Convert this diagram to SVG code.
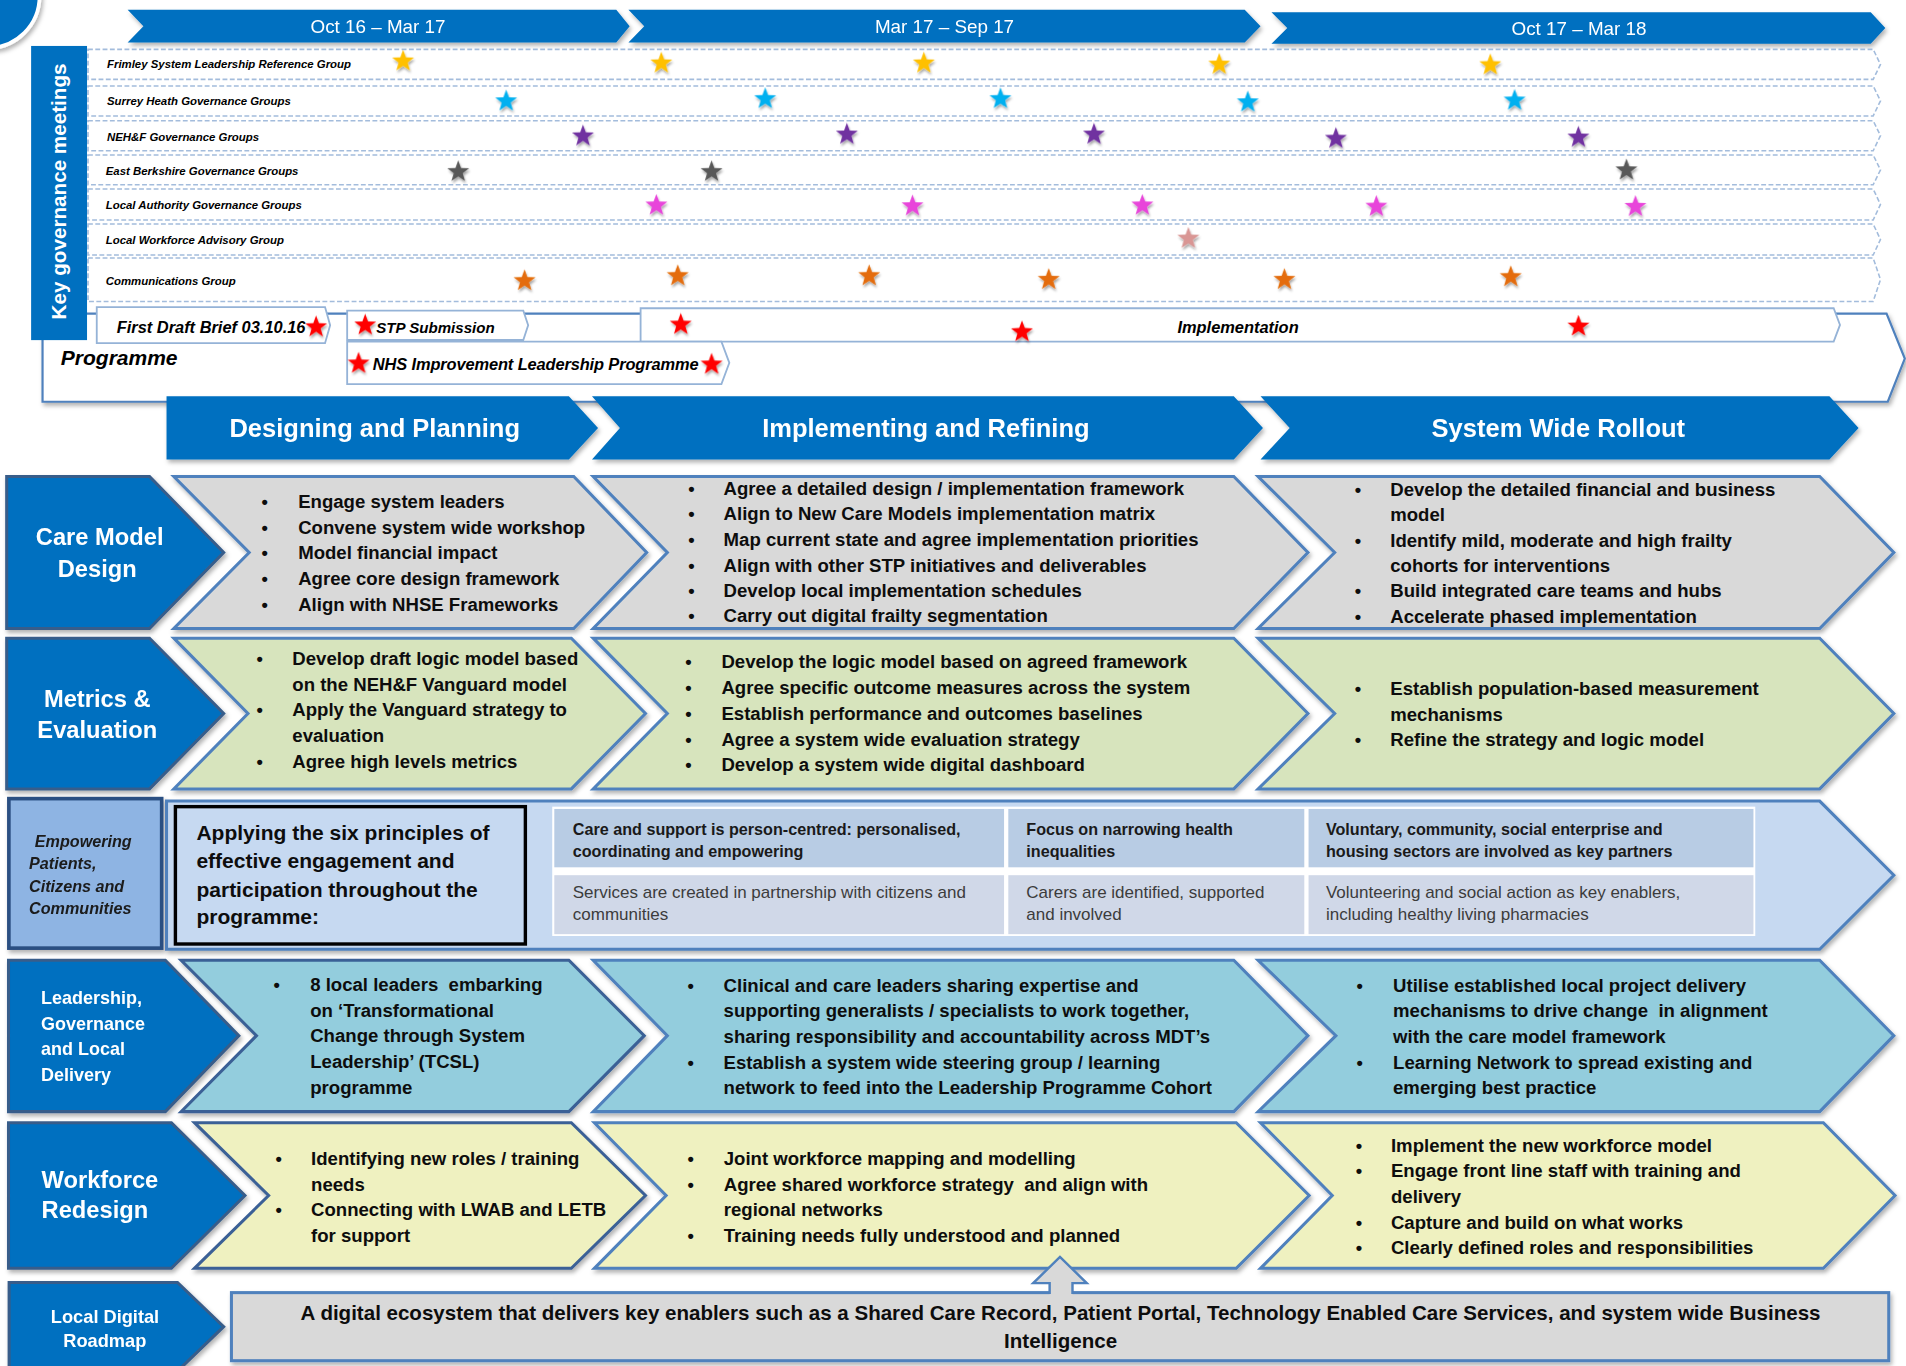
<svg xmlns="http://www.w3.org/2000/svg" width="1906" height="1366" viewBox="0 0 1906 1366">
<defs>
<style>
text { font-family: "Liberation Sans", Arial, sans-serif; }
.per { font-size: 15.5px; fill: #fff; text-anchor: middle; }
.ph { font-size: 21px; font-weight: bold; fill: #fff; text-anchor: middle; }
.gov { font-size: 9.4px; font-weight: bold; font-style: italic; fill: #000; }
.dash { fill: #fff; stroke: #A3BCDC; stroke-width: 1.3; stroke-dasharray: 4 2; }
.pbox { fill: #fff; stroke: #95B3D7; stroke-width: 1.5; }
.pt { font-size: 13.5px; font-weight: bold; font-style: italic; fill: #000; }
.blue { fill: #0070C0; }
.lbl { fill: #0070C0; stroke: #385D8A; stroke-width: 2.5; }
.lab { font-size: 19.5px; font-weight: bold; fill: #fff; }
.labm { font-size: 19.5px; font-weight: bold; fill: #fff; text-anchor: middle; }
.cg { fill: #D9D9D9; stroke: #4F81BD; stroke-width: 2.5; }
.cgr { fill: #D7E4BD; stroke: #4F81BD; stroke-width: 2.5; }
.ct { fill: #93CDDD; stroke: #4F81BD; stroke-width: 2.5; }
.cy { fill: #EFF1C0; stroke: #4F81BD; stroke-width: 2.5; }
.dk { stroke: #3B6196; }
.body { font-size: 15.3px; font-weight: bold; fill: #0d0d0d; }
.bul { font-size: 15px; font-weight: bold; fill: #0d0d0d; text-anchor: middle; }
.tb { font-size: 13.3px; font-weight: bold; fill: #1a1a1a; }
.tr { font-size: 14px; fill: #3c3c3c; }
</style>
<path id="star" d="M0,-9.5 L2.292,-3.155 L9.035,-2.936 L3.709,1.205 L5.584,7.686 L0,3.9 L-5.584,7.686 L-3.709,1.205 L-9.035,-2.936 L-2.292,-3.155 Z"/>
<filter id="sh" x="-5%" y="-20%" width="115%" height="160%">
<feDropShadow dx="1.5" dy="2.5" stdDeviation="1.6" flood-color="#000" flood-opacity="0.3"/>
</filter>
<filter id="ssh" x="-50%" y="-50%" width="200%" height="220%">
<feDropShadow dx="0.8" dy="2" stdDeviation="1" flood-color="#000" flood-opacity="0.35"/>
</filter>
</defs>
<rect x="0" y="0" width="1906" height="1366" fill="#fff"/>
<g transform="scale(1.215561)">

<!-- corner circle -->
<g id="corner-badge" filter="url(#sh)">
<circle cx="-10" cy="-3" r="42.5" fill="#0070C0" stroke="#fff" stroke-width="3"/>
</g>

<!-- period headers -->
<g id="period-1" filter="url(#sh)">
<polygon class="blue" points="105,8 507,8 518,21.5 507,35 105,35 118,21.5"/>
<text class="per" x="311" y="27.4">Oct 16 – Mar 17</text>
</g>
<g id="period-2" filter="url(#sh)">
<polygon class="blue" points="517,8 1024,8 1037,21.5 1024,35 517,35 530,21.5"/>
<text class="per" x="777" y="27.4">Mar 17 – Sep 17</text>
</g>
<g id="period-3" filter="url(#sh)">
<polygon class="blue" points="1046,10 1539,10 1551,23 1539,36 1046,36 1059,23"/>
<text class="per" x="1299" y="28.6">Oct 17 – Mar 18</text>
</g>

<!-- programme outer box -->
<g id="programme" filter="url(#sh)">
<path d="M35,258 L1552,258 L1567,295 L1553,330.5 L35,330.5 Z" fill="#fff" stroke="#4F81BD" stroke-width="1.8"/>
</g>
<text class="pt" x="50" y="300" style="font-size:17.3px">Programme</text>

<!-- governance rows -->
<g id="gov-rows">
<g id="gov-frimley">
<path class="dash" d="M72.4,40.6 L1541,40.6 L1547,53 L1541,65.3 L72.4,65.3 Z"/>
<text class="gov" x="88" y="55.7">Frimley System Leadership Reference Group</text>
</g>
<g id="gov-surrey">
<path class="dash" d="M72.4,70.7 L1541,70.7 L1547,83 L1541,95.4 L72.4,95.4 Z"/>
<text class="gov" x="88" y="86.4">Surrey Heath Governance Groups</text>
</g>
<g id="gov-nehf">
<path class="dash" d="M72.4,99.3 L1541,99.3 L1547,111.6 L1541,124 L72.4,124 Z"/>
<text class="gov" x="88" y="115.7">NEH&amp;F Governance Groups</text>
</g>
<g id="gov-eastberks">
<path class="dash" d="M72.4,127.5 L1541,127.5 L1547,139.8 L1541,152 L72.4,152 Z"/>
<text class="gov" x="87" y="144">East Berkshire Governance Groups</text>
</g>
<g id="gov-localauth">
<path class="dash" d="M72.4,155.5 L1541,155.5 L1547,168.2 L1541,181 L72.4,181 Z"/>
<text class="gov" x="87" y="172">Local Authority Governance Groups</text>
</g>
<g id="gov-workforce">
<path class="dash" d="M72.4,184.3 L1541,184.3 L1547,197 L1541,209.8 L72.4,209.8 Z"/>
<text class="gov" x="87" y="201">Local Workforce Advisory Group</text>
</g>
<g id="gov-comms">
<path class="dash" d="M72.4,212.3 L1541,212.3 L1547,230 L1541,248 L72.4,248 Z"/>
<text class="gov" x="87" y="234.7">Communications Group</text>
</g>
</g>

<!-- key governance meetings bar -->
<g id="key-governance">
<rect class="blue" x="25.6" y="37.8" width="46" height="242"/>
<text x="0" y="0" transform="translate(54,157.5) rotate(-90)" style="font-size:17px;font-weight:bold;fill:#fff;text-anchor:middle">Key governance meetings</text>
</g>

<!-- programme milestones -->
<g id="first-draft">
<polygon class="pbox" points="79.6,252.6 267.4,252.6 271.6,267.5 267.4,282.3 79.6,282.3"/>
<text class="pt" x="96" y="274">First Draft Brief 03.10.16</text>
</g>
<g id="stp-submission">
<polygon class="pbox" points="285.6,255.6 430.5,255.6 434.5,267.6 430.5,279.7 285.6,279.7"/>
<text class="pt" x="309.5" y="274" textLength="97.5" lengthAdjust="spacingAndGlyphs" style="font-size:12.5px">STP Submission</text>
</g>
<g id="implementation">
<polygon class="pbox" points="527,253.6 1508.5,253.6 1513.7,267.3 1508.5,281 527,281"/>
<text class="pt" x="1018.5" y="273.7" style="text-anchor:middle">Implementation</text>
</g>
<g id="nhs-leadership">
<polygon class="pbox" points="285.6,281 593.5,281 600,298.5 593.5,316 285.6,316"/>
<text class="pt" x="306.7" y="304" textLength="268" lengthAdjust="spacing">NHS Improvement Leadership Programme</text>
</g>

<!-- stars -->
<g id="stars" filter="url(#ssh)">
<g fill="#FFC000">
<use href="#star" x="331.6" y="50.3"/><use href="#star" x="544" y="52"/><use href="#star" x="760" y="52"/><use href="#star" x="1003" y="53"/><use href="#star" x="1226" y="53.5"/>
</g>
<g fill="#00B0F0">
<use href="#star" x="416.4" y="83.2"/><use href="#star" x="629.5" y="81.3"/><use href="#star" x="823" y="81.3"/><use href="#star" x="1026.5" y="84"/><use href="#star" x="1246" y="82.6"/>
</g>
<g fill="#7030A0">
<use href="#star" x="479.6" y="112"/><use href="#star" x="696.7" y="110.6"/><use href="#star" x="900" y="110.6"/><use href="#star" x="1099" y="114"/><use href="#star" x="1298.5" y="113"/>
</g>
<g fill="#595959">
<use href="#star" x="377" y="141.3"/><use href="#star" x="585.4" y="141.3"/><use href="#star" x="1338" y="140"/>
</g>
<g fill="#E844DA">
<use href="#star" x="540" y="169"/><use href="#star" x="750.7" y="169.5"/><use href="#star" x="939.8" y="169"/><use href="#star" x="1132.3" y="170"/><use href="#star" x="1345.4" y="170"/>
</g>
<g fill="#D99694">
<use href="#star" x="977.6" y="196.2"/>
</g>
<g fill="#E46C0A">
<use href="#star" x="431.5" y="231"/><use href="#star" x="557.5" y="227"/><use href="#star" x="715" y="227"/><use href="#star" x="862.7" y="230"/><use href="#star" x="1056.6" y="230"/><use href="#star" x="1242.8" y="227.8"/>
</g>
<g fill="#FF0000">
<use href="#star" x="260" y="269"/><use href="#star" x="300.4" y="267.5"/><use href="#star" x="560" y="267"/><use href="#star" x="840.7" y="273"/><use href="#star" x="1298.5" y="268.4"/><use href="#star" x="295" y="299"/><use href="#star" x="585.4" y="299.8"/>
</g>
</g>

<!-- phase headers -->
<g id="phase-design" filter="url(#sh)">
<polygon class="blue" points="137,326 468,326 492,352 468,378 137,378"/>
<text class="ph" x="308.3" y="359.8">Designing and Planning</text>
</g>
<g id="phase-implement" filter="url(#sh)">
<polygon class="blue" points="487,326 1015,326 1039,352 1015,378 487,378 510,352"/>
<text class="ph" x="761.7" y="359.8">Implementing and Refining</text>
</g>
<g id="phase-rollout" filter="url(#sh)">
<polygon class="blue" points="1037,326 1505,326 1529,352 1505,378 1037,378 1061,352"/>
<text class="ph" x="1282" y="359.8">System Wide Rollout</text>
</g>

<!-- Row 1: Care Model Design -->
<g id="label-care-model" filter="url(#sh)">
<polygon class="lbl" points="5.5,392 123,392 184,454.5 123,517 5.5,517"/>
<text class="labm" x="82" y="448.4">Care Model</text>
<text class="labm" x="80" y="474.4">Design</text>
</g>
<g id="care-c1">
<polygon class="cg" filter="url(#sh)" points="143,392 472,392 532,454.5 472,517 143,517 205,454.5"/>
<text class="bul" x="217.8" y="418.2">•</text><text class="bul" x="217.8" y="439.3">•</text><text class="bul" x="217.8" y="460.1">•</text><text class="bul" x="217.8" y="481.2">•</text><text class="bul" x="217.8" y="502.4">•</text>
<text class="body" x="245.3" y="418.2">Engage system leaders</text>
<text class="body" x="245.3" y="439.3">Convene system wide workshop</text>
<text class="body" x="245.3" y="460.1">Model financial impact</text>
<text class="body" x="245.3" y="481.2">Agree core design framework</text>
<text class="body" x="245.3" y="502.4">Align with NHSE Frameworks</text>
</g>
<g id="care-c2">
<polygon class="cg" filter="url(#sh)" points="488,392 1015,392 1076,454.5 1015,517 488,517 549,454.5"/>
<text class="bul" x="568.9" y="407.2">•</text><text class="bul" x="568.9" y="427.8">•</text><text class="bul" x="568.9" y="448.9">•</text><text class="bul" x="568.9" y="470.3">•</text><text class="bul" x="568.9" y="490.9">•</text><text class="bul" x="568.9" y="512">•</text>
<text class="body" x="595.3" y="407.2">Agree a detailed design / implementation framework</text>
<text class="body" x="595.3" y="427.8">Align to New Care Models implementation matrix</text>
<text class="body" x="595.3" y="448.9">Map current state and agree implementation priorities</text>
<text class="body" x="595.3" y="470.3">Align with other STP initiatives and deliverables</text>
<text class="body" x="595.3" y="490.9">Develop local implementation schedules</text>
<text class="body" x="595.3" y="512">Carry out digital frailty segmentation</text>
</g>
<g id="care-c3">
<polygon class="cg" filter="url(#sh)" points="1035,392 1497,392 1558,454.5 1497,517 1035,517 1098,454.5"/>
<text class="bul" x="1117.2" y="407.8">•</text><text class="bul" x="1117.2" y="449.7">•</text><text class="bul" x="1117.2" y="491.4">•</text><text class="bul" x="1117.2" y="512.2">•</text>
<text class="body" x="1143.7" y="407.8">Develop the detailed financial and business</text>
<text class="body" x="1143.7" y="428.3">model</text>
<text class="body" x="1143.7" y="449.7">Identify mild, moderate and high frailty</text>
<text class="body" x="1143.7" y="470.8">cohorts for interventions</text>
<text class="body" x="1143.7" y="491.4">Build integrated care teams and hubs</text>
<text class="body" x="1143.7" y="512.2">Accelerate phased implementation</text>
</g>

<!-- Row 2: Metrics & Evaluation -->
<g id="label-metrics" filter="url(#sh)">
<polygon class="lbl" points="5.5,525 123,525 184,587 123,649 5.5,649"/>
<text class="labm" x="80" y="581.4">Metrics &amp;</text>
<text class="labm" x="80" y="607.4">Evaluation</text>
</g>
<g id="metrics-c1">
<polygon class="cgr" filter="url(#sh)" points="143,525 470,525 531,587 470,649 143,649 204,587"/>
<text class="bul" x="213.7" y="547">•</text><text class="bul" x="213.7" y="589">•</text><text class="bul" x="213.7" y="631.5">•</text>
<text class="body" x="240.5" y="547">Develop draft logic model based</text>
<text class="body" x="240.5" y="568.2">on the NEH&amp;F Vanguard model</text>
<text class="body" x="240.5" y="589">Apply the Vanguard strategy to</text>
<text class="body" x="240.5" y="610.1">evaluation</text>
<text class="body" x="240.5" y="631.5">Agree high levels metrics</text>
</g>
<g id="metrics-c2">
<polygon class="cgr" filter="url(#sh)" points="488,525 1015,525 1076,587 1015,649 488,649 549,587"/>
<text class="bul" x="566.3" y="549.8">•</text><text class="bul" x="566.3" y="571.2">•</text><text class="bul" x="566.3" y="592.3">•</text><text class="bul" x="566.3" y="613.4">•</text><text class="bul" x="566.3" y="634.3">•</text>
<text class="body" x="593.5" y="549.8">Develop the logic model based on agreed framework</text>
<text class="body" x="593.5" y="571.2">Agree specific outcome measures across the system</text>
<text class="body" x="593.5" y="592.3">Establish performance and outcomes baselines</text>
<text class="body" x="593.5" y="613.4">Agree a system wide evaluation strategy</text>
<text class="body" x="593.5" y="634.3">Develop a system wide digital dashboard</text>
</g>
<g id="metrics-c3">
<polygon class="cgr" filter="url(#sh)" points="1035,525 1497,525 1558,587 1497,649 1035,649 1098,587"/>
<text class="bul" x="1117.2" y="571.7">•</text><text class="bul" x="1117.2" y="613.7">•</text>
<text class="body" x="1143.7" y="571.7">Establish population-based measurement</text>
<text class="body" x="1143.7" y="592.9">mechanisms</text>
<text class="body" x="1143.7" y="613.7">Refine the strategy and logic model</text>
</g>

<!-- Row 3: Empowering -->
<g id="label-empowering" filter="url(#sh)">
<rect x="7.3" y="657" width="125.7" height="123" fill="#8EB4E3" stroke="#2B4F82" stroke-width="3"/>
<text x="28.6" y="696.5" style="font-size:13.3px;font-weight:bold;font-style:italic;fill:#1a1a1a">Empowering</text>
<text x="23.9" y="715" style="font-size:13.3px;font-weight:bold;font-style:italic;fill:#1a1a1a">Patients,</text>
<text x="23.9" y="733.5" style="font-size:13.3px;font-weight:bold;font-style:italic;fill:#1a1a1a">Citizens and</text>
<text x="23.9" y="751.9" style="font-size:13.3px;font-weight:bold;font-style:italic;fill:#1a1a1a">Communities</text>
</g>
<g id="empowering-band">
<polygon filter="url(#sh)" points="137,659 1497,659 1558,720 1497,781 137,781" fill="#C6D9F1" stroke="#4F81BD" stroke-width="2.5"/>
<rect x="144.3" y="663.6" width="287.9" height="113" fill="#C6D9F1" stroke="#000" stroke-width="2.8"/>
<text x="161.6" y="691" style="font-size:17.3px;font-weight:bold;fill:#0d0d0d">Applying the six principles of</text>
<text x="161.6" y="713.8" style="font-size:17.3px;font-weight:bold;fill:#0d0d0d">effective engagement and</text>
<text x="161.6" y="737.7" style="font-size:17.3px;font-weight:bold;fill:#0d0d0d">participation throughout the</text>
<text x="161.6" y="760" style="font-size:17.3px;font-weight:bold;fill:#0d0d0d">programme:</text>
</g>
<g id="principles-table">
<rect x="454.3" y="663.6" width="989.7" height="106.4" fill="#fff"/>
<rect x="456" y="665.5" width="370" height="48" fill="#B8CCE4"/>
<rect x="829.5" y="665.5" width="243.5" height="48" fill="#B8CCE4"/>
<rect x="1076.5" y="665.5" width="366" height="48" fill="#B8CCE4"/>
<rect x="456" y="720" width="370" height="48.5" fill="#D0D8E8"/>
<rect x="829.5" y="720" width="243.5" height="48.5" fill="#D0D8E8"/>
<rect x="1076.5" y="720" width="366" height="48.5" fill="#D0D8E8"/>
<text class="tb" x="471.2" y="687">Care and support is person-centred: personalised,</text>
<text class="tb" x="471.2" y="705.3">coordinating and empowering</text>
<text class="tb" x="844.3" y="687">Focus on narrowing health</text>
<text class="tb" x="844.3" y="705.3">inequalities</text>
<text class="tb" x="1090.8" y="687">Voluntary, community, social enterprise and</text>
<text class="tb" x="1090.8" y="705.3">housing sectors are involved as key partners</text>
<text class="tr" x="471.2" y="739">Services are created in partnership with citizens and</text>
<text class="tr" x="471.2" y="756.9">communities</text>
<text class="tr" x="844.3" y="739">Carers are identified, supported</text>
<text class="tr" x="844.3" y="756.9">and involved</text>
<text class="tr" x="1090.8" y="739">Volunteering and social action as key enablers,</text>
<text class="tr" x="1090.8" y="756.9">including healthy living pharmacies</text>
</g>

<!-- Row 4: Leadership -->
<g id="label-leadership" filter="url(#sh)">
<polygon class="lbl" points="7,790 136,790 196.5,852 136,914.5 7,914.5"/>
<text x="33.8" y="826" style="font-size:14.8px;font-weight:bold;fill:#fff">Leadership,</text>
<text x="33.8" y="847.3" style="font-size:14.8px;font-weight:bold;fill:#fff">Governance</text>
<text x="33.8" y="867.9" style="font-size:14.8px;font-weight:bold;fill:#fff">and Local</text>
<text x="33.8" y="889" style="font-size:14.8px;font-weight:bold;fill:#fff">Delivery</text>
</g>
<g id="leadership-c1">
<polygon class="ct dk" filter="url(#sh)" points="149,790 468,790 530,852 468,914.5 149,914.5 211,852"/>
<text class="bul" x="227.7" y="815.3">•</text>
<text class="body" x="255.2" y="815.3" xml:space="preserve">8 local leaders  embarking</text>
<text class="body" x="255.2" y="836.4">on ‘Transformational</text>
<text class="body" x="255.2" y="857.5">Change through System</text>
<text class="body" x="255.2" y="878.6">Leadership’ (TCSL)</text>
<text class="body" x="255.2" y="899.7">programme</text>
</g>
<g id="leadership-c2">
<polygon class="ct" filter="url(#sh)" points="488,790 1015,790 1076,852 1015,914.5 488,914.5 549,852"/>
<text class="bul" x="568.2" y="815.8">•</text><text class="bul" x="568.2" y="879.2">•</text>
<text class="body" x="595.3" y="815.8">Clinical and care leaders sharing expertise and</text>
<text class="body" x="595.3" y="836.9">supporting generalists / specialists to work together,</text>
<text class="body" x="595.3" y="858">sharing responsibility and accountability across MDT’s</text>
<text class="body" x="595.3" y="879.2">Establish a system wide steering group / learning</text>
<text class="body" x="595.3" y="900.3">network to feed into the Leadership Programme Cohort</text>
</g>
<g id="leadership-c3">
<polygon class="ct" filter="url(#sh)" points="1035,790 1497,790 1558,852 1497,914.5 1035,914.5 1099,852"/>
<text class="bul" x="1118.5" y="815.8">•</text><text class="bul" x="1118.5" y="879.2">•</text>
<text class="body" x="1146" y="815.8">Utilise established local project delivery</text>
<text class="body" x="1146" y="836.9" xml:space="preserve">mechanisms to drive change  in alignment</text>
<text class="body" x="1146" y="858">with the care model framework</text>
<text class="body" x="1146" y="879.2">Learning Network to spread existing and</text>
<text class="body" x="1146" y="900.3">emerging best practice</text>
</g>

<!-- Row 5: Workforce -->
<g id="label-workforce" filter="url(#sh)">
<polygon class="lbl" points="7,923.6 141,923.6 201.5,983.5 141,1043.4 7,1043.4"/>
<text class="lab" x="34.2" y="977.6" style="font-size:19.5px">Workforce</text>
<text class="lab" x="34.2" y="1002.3" style="font-size:19.5px">Redesign</text>
</g>
<g id="workforce-c1">
<polygon class="cy dk" filter="url(#sh)" points="160,923.6 470,923.6 531,983.5 470,1043.4 160,1043.4 221,983.5"/>
<text class="bul" x="229.2" y="958.4">•</text><text class="bul" x="229.2" y="1000.6">•</text>
<text class="body" x="255.9" y="958.4">Identifying new roles / training</text>
<text class="body" x="255.9" y="979.5">needs</text>
<text class="body" x="255.9" y="1000.6">Connecting with LWAB and LETB</text>
<text class="body" x="255.9" y="1021.7">for support</text>
</g>
<g id="workforce-c2">
<polygon class="cy" filter="url(#sh)" points="489,923.6 1017,923.6 1077,983.5 1017,1043.4 489,1043.4 548,983.5"/>
<text class="bul" x="568.3" y="958.4">•</text><text class="bul" x="568.3" y="979.5">•</text><text class="bul" x="568.3" y="1021.7">•</text>
<text class="body" x="595.4" y="958.4">Joint workforce mapping and modelling</text>
<text class="body" x="595.4" y="979.5" xml:space="preserve">Agree shared workforce strategy  and align with</text>
<text class="body" x="595.4" y="1000.6">regional networks</text>
<text class="body" x="595.4" y="1021.7">Training needs fully understood and planned</text>
</g>
<g id="workforce-c3">
<polygon class="cy" filter="url(#sh)" points="1037,923.6 1500,923.6 1559,983.5 1500,1043.4 1037,1043.4 1096,983.5"/>
<text class="bul" x="1118" y="947.4">•</text><text class="bul" x="1118" y="968.5">•</text><text class="bul" x="1118" y="1010.7">•</text><text class="bul" x="1118" y="1031.8">•</text>
<text class="body" x="1144.3" y="947.4">Implement the new workforce model</text>
<text class="body" x="1144.3" y="968.5">Engage front line staff with training and</text>
<text class="body" x="1144.3" y="989.6">delivery</text>
<text class="body" x="1144.3" y="1010.7">Capture and build on what works</text>
<text class="body" x="1144.3" y="1031.8">Clearly defined roles and responsibilities</text>
</g>

<!-- Row 6: Local Digital Roadmap -->
<g id="label-digital" filter="url(#sh)">
<polygon class="lbl" points="7.5,1055 146,1055 184,1091.4 146,1128 7.5,1128"/>
<text x="86.4" y="1088" style="font-size:15px;font-weight:bold;fill:#fff;text-anchor:middle">Local Digital</text>
<text x="86.2" y="1107.8" style="font-size:15px;font-weight:bold;fill:#fff;text-anchor:middle">Roadmap</text>
</g>
<g id="digital-box">
<rect filter="url(#sh)" x="190.4" y="1063.4" width="1363.4" height="56" fill="#D9D9D9" stroke="#4F81BD" stroke-width="2.5"/>
<text x="872.5" y="1086" style="font-size:16.9px;font-weight:bold;fill:#0d0d0d;text-anchor:middle">A digital ecosystem that delivers key enablers such as a Shared Care Record, Patient Portal, Technology Enabled Care Services, and system wide Business</text>
<text x="872.5" y="1109.2" style="font-size:16.9px;font-weight:bold;fill:#0d0d0d;text-anchor:middle">Intelligence</text>
</g>

<!-- connectors -->
<g id="connectors">
<polygon points="872,1034 894,1055.6 882.3,1055.6 882.3,1066 863.5,1066 863.5,1055.6 850,1055.6" fill="#D9D9D9"/>
<polyline points="863.5,1064.6 863.5,1055.6 850,1055.6 872,1034 894,1055.6 882.3,1055.6 882.3,1064.6" fill="none" stroke="#4F81BD" stroke-width="2"/>
</g>

</g>
</svg>
